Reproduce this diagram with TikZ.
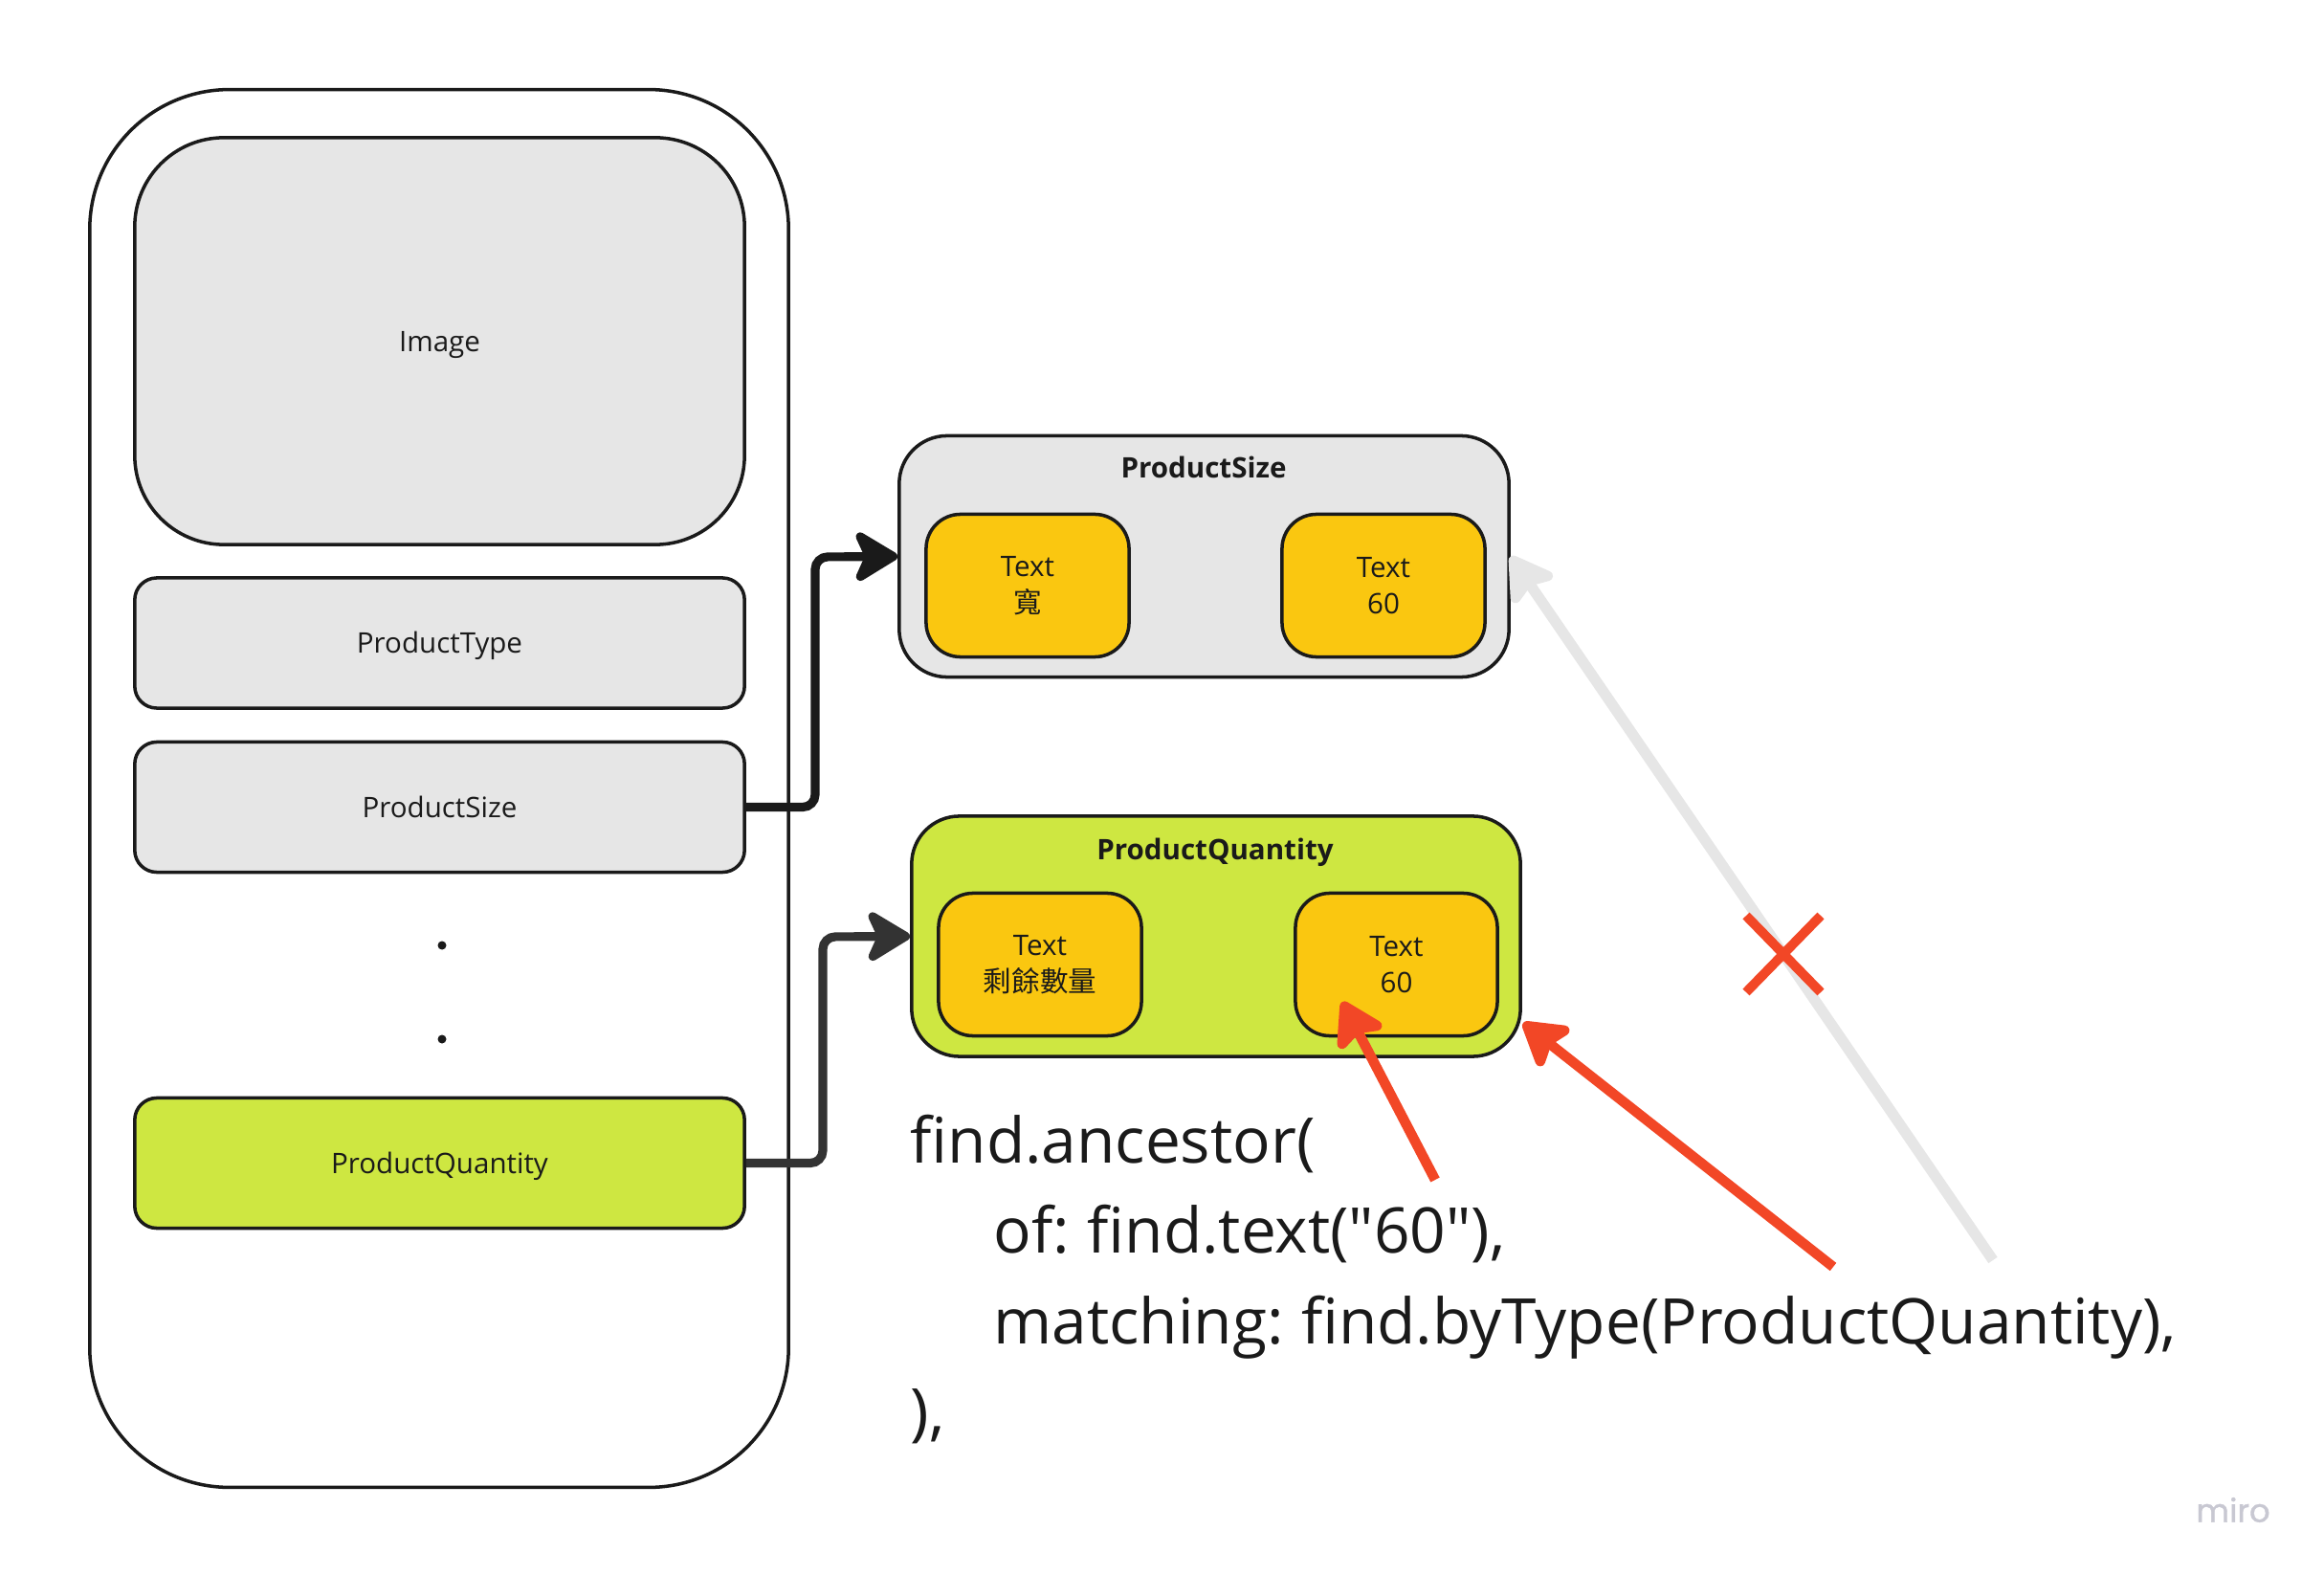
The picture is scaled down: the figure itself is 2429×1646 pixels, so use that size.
\documentclass[tikz,border=0pt]{standalone}
\usepackage{fontspec}
\setmainfont{Open Sans}
\newfontfamily\codefont[WordSpace=0.75]{Open Sans}
\newfontfamily\cjkfont{Noto Sans CJK TC}
\newfontfamily\wmfont[FakeBold=1.2]{Poppins}
\usetikzlibrary{arrows.meta}
\definecolor{lgrey}{HTML}{E6E6E6}
\definecolor{myyellow}{HTML}{FAC710}
\definecolor{mygreen}{HTML}{CEE741}
\definecolor{myred}{HTML}{F24726}
\definecolor{ink}{HTML}{1A1A1A}
\definecolor{ink2}{HTML}{333333}
\definecolor{wmgrey}{HTML}{C8C8D2}
\begin{document}
\begin{tikzpicture}[x=0.01cm,y=-0.01cm,
  box/.style={rectangle,draw=ink,line width=1pt,inner sep=0pt,
    font=\fontsize{8.4pt}{11pt}\selectfont,text=ink},
  itembox/.style={box,fill=lgrey,minimum width=6.37cm,minimum height=1.36cm,rounded corners=0.23cm,
    text height=6.2pt,text depth=0pt},
  txtbox/.style={box,fill=myyellow,minimum width=2.12cm,minimum height=1.49cm,rounded corners=0.36cm,align=center},
  grpbox/.style={box,minimum width=6.37cm,minimum height=2.52cm,rounded corners=0.5cm},
  title/.style={font=\fontsize{8.4pt}{11pt}\selectfont\bfseries,text=ink,inner sep=0pt},
  codeline/.style={anchor=base west,inner sep=0pt,font=\codefont\fontsize{18.7pt}{26pt}\selectfont,text=ink},
  flow/.style={line width=2.6pt,rounded corners=0.13cm,
    -{Stealth[length=15pt,width=18pt,inset=4pt,round]}},
  redarrow/.style={myred,line width=3pt,-{Stealth[length=15pt,width=18pt,inset=3pt,round]}},
  greyarrow/.style={lgrey,line width=3.2pt,-{Stealth[length=15pt,width=18pt,inset=3pt,round]}},
  xline/.style={myred,line width=2.8pt}
]
\useasboundingbox (0,0) rectangle (2429,1646);

% phone frame
\node[box,fill=white,minimum width=7.30cm,minimum height=14.60cm,rounded corners=1.46cm] (outer) at (459,824) {};
\node[box,fill=lgrey,minimum width=6.37cm,minimum height=4.25cm,rounded corners=0.93cm,
  text height=6.2pt,text depth=0pt] (img) at (459.5,356.5) {Image};
\node[itembox] (ptype) at (459.5,672) {ProductType};
\node[itembox] (psize) at (459.5,843.5) {ProductSize};
\fill[ink] (462,988) circle (4.5);
\fill[ink] (462,1086) circle (4.5);
\node[itembox,fill=mygreen] (pqty) at (459.5,1215.5) {ProductQuantity};

% ProductSize group
\node[grpbox,fill=lgrey] (psbox) at (1258.5,581.5) {};
\node[title] (pstitle) at (1258,488) {ProductSize};
\node[txtbox] (t1) at (1074,612) {Text\\{\cjkfont 寬}};
\node[txtbox] (t2) at (1446,612) {Text\\60};

% ProductQuantity group
\node[grpbox,fill=mygreen,minimum width=6.36cm,minimum height=2.51cm] (pqbox) at (1271,978.5) {};
\node[title] (pqtitle) at (1270,891) {ProductQuantity};
\node[txtbox] (q1) at (1087,1008) {Text\\{\cjkfont 剩餘數量}};
\node[txtbox,minimum width=2.11cm] (q2) at (1459.5,1008) {Text\\60};

% connectors
\draw[flow,ink] (psize.east) -- (852,843.5) -- (852,582) -- (psbox.west);
\draw[flow,ink2] (pqty.east) -- (860,1215.5) -- (860,979) -- (pqbox.west);

% code
\node[codeline] (c1) at (951,1215) {find.ancestor(};
\node[codeline] (c2) at (1038,1309.5) {of: find.text("60"),};
\node[codeline] (c3) at (1038,1404) {matching: find.byType(ProductQuantity),};
\node[codeline] (c4) at (951,1498.5) {),};

% grey crossed-out arrow
\coordinate (gstart) at (2083,1317);
\draw[greyarrow] (gstart) -- (psbox.east);
\draw[xline] (1825,957) -- (1903,1037);
\draw[xline] (1903,957) -- (1825,1037);

% red arrows
\coordinate (r1start) at (1500,1233);
\coordinate (r1end) at (1403,1047);
\coordinate (r2start) at (1916,1324);
\coordinate (r2end) at (1592,1069);
\draw[redarrow] (r1start) -- (r1end);
\draw[redarrow] (r2start) -- (r2end);

% watermark
\node[inner sep=0pt,text=wmgrey,font=\wmfont\fontsize{9.6pt}{10pt}\selectfont] (wm) at (2334,1578) {miro};
\end{tikzpicture}
\end{document}
